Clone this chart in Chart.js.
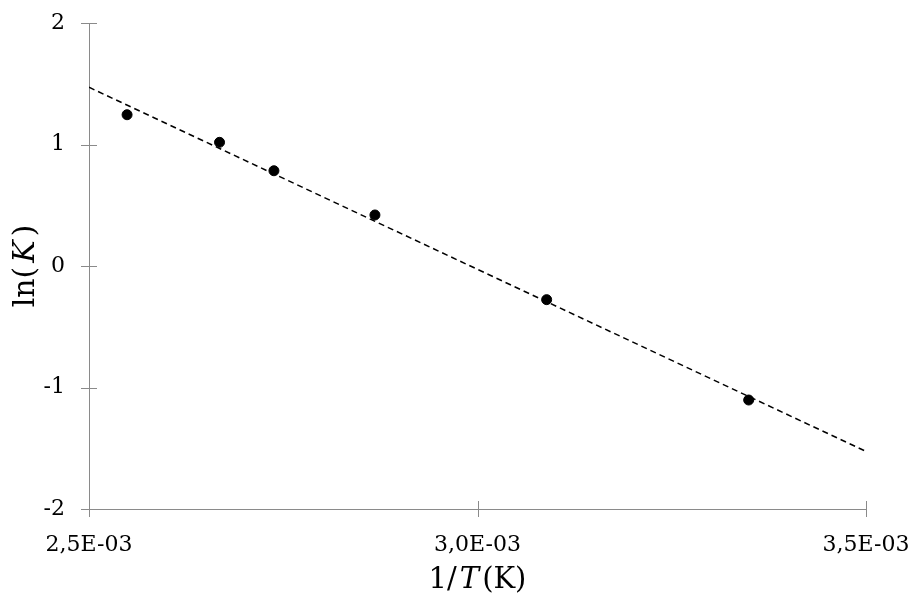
<!DOCTYPE html>
<html>
<head>
<meta charset="utf-8">
<script src="https://cdn.jsdelivr.net/npm/chart.js@4.4.1/dist/chart.umd.min.js"></script>
<style>
html,body{margin:0;padding:0;background:#fff;}
#wrap{width:909px;height:593px;position:relative;}
</style>
</head>
<body>
<div id="wrap"><canvas id="c" width="909" height="593"></canvas></div>
<script>
// Data
const invT = [0.002549, 0.002668, 0.002738, 0.002868, 0.003089, 0.003349];
const lnK  = [1.245, 1.018, 0.784, 0.420, -0.277, -1.103];
const trendX = [0.0025, 0.0035];
const trendY = [1.471, -1.526];
const xTicks = [0.0025, 0.0030, 0.0035];
const yTicks = [-2, -1, 0, 1, 2];
const xTitleParts = [["1/", false], ["T", true], ["(K)", false]];
const yTitleParts = [["ln(", false], ["K", true], [")", false]];

const FONT = "'DejaVu Serif', serif";
const AXIS_COLOR = '#8a8a8a';

function fmtSci(v){
  const s = v.toExponential(1); // e.g. 2.5e-3
  const [m, e] = s.split('e');
  const n = parseInt(e, 10);
  const sign = n < 0 ? '-' : '+';
  return m.replace('.', ',') + 'E' + sign + String(Math.abs(n)).padStart(2, '0');
}

const crossTicks = {
  id: 'crossTicks',
  afterDraw(chart){
    const ctx = chart.ctx;
    const xs = chart.scales.x, ys = chart.scales.y;
    const area = chart.chartArea;
    ctx.save();
    ctx.strokeStyle = AXIS_COLOR;
    ctx.lineWidth = 1;
    ctx.beginPath();
    yTicks.forEach(v => {
      const p = Math.round(ys.getPixelForValue(v)) + 0.5;
      ctx.moveTo(area.left - 8, p); ctx.lineTo(area.left + 8, p);
    });
    xTicks.forEach(v => {
      const p = Math.round(xs.getPixelForValue(v)) + 0.5;
      ctx.moveTo(p, area.bottom - 8); ctx.lineTo(p, area.bottom + 8);
    });
    ctx.stroke();

    // axis titles with mixed italic
    function drawParts(parts, size, gap){
      let total = 0;
      const widths = parts.map(([t, it]) => {
        ctx.font = (it ? 'italic ' : '') + size + 'px ' + FONT;
        const w = ctx.measureText(t).width + gap; total += w; return w;
      });
      total -= gap;
      let x = -total / 2;
      parts.forEach(([t, it], i) => {
        ctx.font = (it ? 'italic ' : '') + size + 'px ' + FONT;
        ctx.fillText(t, x, 0);
        x += widths[i];
      });
    }
    ctx.fillStyle = '#000';
    ctx.textBaseline = 'alphabetic';
    ctx.textAlign = 'left';
    const cx = (xs.getPixelForValue(xTicks[0]) + xs.getPixelForValue(xTicks[xTicks.length-1])) / 2;
    ctx.save();
    ctx.translate(cx, 588);
    drawParts(xTitleParts, 29, 3);
    ctx.restore();
    const cy = (ys.getPixelForValue(yTicks[0]) + ys.getPixelForValue(yTicks[yTicks.length-1])) / 2;
    ctx.save();
    ctx.translate(34, cy);
    ctx.rotate(-Math.PI / 2);
    drawParts(yTitleParts, 30, 4);
    ctx.restore();
    ctx.restore();
  }
};

new Chart(document.getElementById('c'), {
  type: 'scatter',
  data: {
    datasets: [
      {
        label: 'trend',
        data: trendX.map((x, i) => ({x, y: trendY[i]})),
        showLine: true,
        borderColor: '#000',
        borderWidth: 1.5,
        borderDash: [6, 4],
        pointRadius: 0,
        fill: false,
        order: 2
      },
      {
        label: 'ln(K)',
        data: invT.map((x, i) => ({x, y: lnK[i]})),
        backgroundColor: '#000',
        borderColor: '#000',
        pointRadius: 5,
        pointHoverRadius: 5,
        order: 1
      }
    ]
  },
  options: {
    responsive: false,
    animation: false,
    events: [],
    layout: { padding: { left: 0, right: 43, top: 23, bottom: 0 } },
    plugins: { legend: { display: false }, tooltip: { enabled: false } },
    scales: {
      x: {
        type: 'linear',
        min: 0.0025, max: 0.0035,
        afterBuildTicks(s){ s.ticks = xTicks.map(v => ({value: v})); },
        afterFit(s){ s.height = 84; s.paddingLeft = 0; s.paddingRight = 0; s.paddingTop = 0; s.paddingBottom = 0; },
        grid: { display: false, drawTicks: false },
        border: { display: true, color: AXIS_COLOR, width: 1 },
        ticks: {
          color: '#000',
          font: { family: FONT, size: 22 },
          padding: 23,
          maxRotation: 0,
          callback: v => fmtSci(v)
        }
      },
      y: {
        type: 'linear',
        min: -2, max: 2,
        afterBuildTicks(s){ s.ticks = yTicks.map(v => ({value: v})); },
        afterFit(s){ s.width = 89; s.paddingLeft = 0; s.paddingRight = 0; s.paddingTop = 0; s.paddingBottom = 0; },
        grid: { display: false, drawTicks: false },
        border: { display: true, color: AXIS_COLOR, width: 1 },
        ticks: {
          color: '#000',
          font: { family: FONT, size: 22 },
          padding: 24,
          callback: v => String(v)
        }
      }
    }
  },
  plugins: [crossTicks]
});
</script>
</body>
</html>
